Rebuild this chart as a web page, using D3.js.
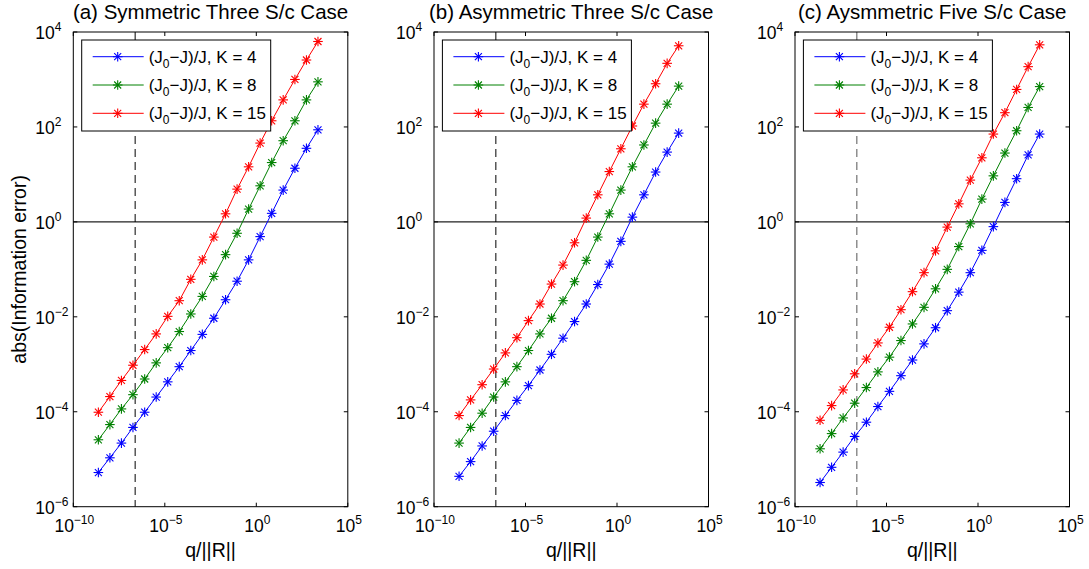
<!DOCTYPE html>
<html>
<head>
<meta charset="utf-8">
<script src="https://cdn.jsdelivr.net/npm/d3@7"></script>
<style>
  body { margin:0; background:#fff; }
  svg { font-family: "Liberation Sans", Arial, sans-serif; }
</style>
</head>
<body>
<svg id="chart" width="1089" height="569"></svg>
<script>
// log10 of q/||R|| for each of the 20 samples
var qLog = [-8.63,-8.00,-7.37,-6.74,-6.10,-5.47,-4.84,-4.21,-3.58,-2.95,
            -2.32,-1.68,-1.05,-0.42,0.21,0.84,1.47,2.11,2.74,3.37]

// log10 of abs(information error)
var symK4  = [-5.28,-4.97,-4.66,-4.33,-4.01,-3.69,-3.37,-3.05,-2.71,-2.37,-2.03,-1.64,-1.25,-0.80,-0.31,0.18,0.67,1.13,1.55,1.94]
var symK8  = [-4.59,-4.27,-3.94,-3.64,-3.31,-2.97,-2.65,-2.31,-1.94,-1.57,-1.15,-0.69,-0.24,0.27,0.76,1.25,1.71,2.13,2.57,2.95]
var symK15 = [-4.01,-3.68,-3.34,-3.02,-2.69,-2.36,-1.99,-1.66,-1.21,-0.80,-0.32,0.17,0.69,1.16,1.66,2.13,2.57,3.00,3.41,3.80]

var asym3K4  = [-5.36,-5.05,-4.72,-4.41,-4.08,-3.76,-3.45,-3.12,-2.79,-2.45,-2.10,-1.73,-1.32,-0.89,-0.41,0.10,0.57,1.05,1.47,1.87]
var asym3K8  = [-4.66,-4.33,-4.03,-3.69,-3.37,-3.05,-2.71,-2.36,-2.03,-1.66,-1.26,-0.81,-0.32,0.17,0.67,1.16,1.62,2.08,2.48,2.86]
var asym3K15 = [-4.08,-3.75,-3.43,-3.10,-2.76,-2.44,-2.08,-1.73,-1.31,-0.91,-0.44,0.08,0.57,1.06,1.54,2.02,2.48,2.91,3.34,3.71]

var asym5K4  = [-5.49,-5.17,-4.85,-4.52,-4.22,-3.89,-3.57,-3.24,-2.91,-2.57,-2.23,-1.87,-1.48,-1.07,-0.60,-0.10,0.41,0.91,1.41,1.85]
var asym5K8  = [-4.78,-4.46,-4.13,-3.82,-3.49,-3.16,-2.85,-2.50,-2.15,-1.80,-1.41,-1.00,-0.52,-0.04,0.48,0.97,1.45,1.92,2.41,2.85]
var asym5K15 = [-4.18,-3.87,-3.54,-3.20,-2.89,-2.55,-2.22,-1.85,-1.47,-1.07,-0.61,-0.11,0.38,0.88,1.35,1.85,2.30,2.79,3.27,3.73]

var titles = ["(a) Symmetric Three S/c Case","(b) Asymmetric Three S/c Case","(c) Aysmmetric Five S/c Case"]
var kLabels = ["4","8","15"]
var colors = ["#0000ff","#008000","#ff0000"]
var xTickExp = [-10,-5,0,5]
var yTickExp = [-6,-4,-2,0,2,4]
var dashedLog = -6.62

var panels = [
    {title:titles[0], series:[symK4,symK8,symK15], left:73.3, dash:"#000"},
    {title:titles[1], series:[asym3K4,asym3K8,asym3K15], left:434, dash:"#000"},
    {title:titles[2], series:[asym5K4,asym5K8,asym5K15], left:795, dash:"#555"}
]

var graph = {width:274.5, height:474.7, top:32}

var svg = d3.select("#chart")

var drawStar = function(g, x, y, color)
{
    var r = 4.8, d = 3.5
    var segs = [[-r,0,r,0],[0,-r,0,r],[-d,-d,d,d],[-d,d,d,-d]]
    segs.forEach(function(s)
    {
        g.append("line")
            .attr("x1",x+s[0]).attr("y1",y+s[1])
            .attr("x2",x+s[2]).attr("y2",y+s[3])
            .attr("stroke",color)
            .attr("stroke-width",1.1)
    })
}

var powLabel = function(sel, exp, small)
{
    sel.append("tspan").text("10")
    sel.append("tspan")
        .text(exp < 0 ? "\u2212" + (-exp) : "" + exp)
        .attr("font-size",small)
        .attr("dy",-8)
}

var makePanel = function(p, idx)
{
    var xScale = d3.scaleLog()
        .domain([1e-10,1e5])
        .range([0,graph.width])
    var yScale = d3.scaleLog()
        .domain([1e-6,1e4])
        .range([graph.height,0])

    var g = svg.append("g")
        .attr("transform","translate("+p.left+","+graph.top+")")

    // reference lines
    g.append("line")
        .attr("x1",0).attr("x2",graph.width)
        .attr("y1",yScale(1)).attr("y2",yScale(1))
        .attr("stroke","#222").attr("stroke-width",1.2)
    g.append("line")
        .attr("x1",xScale(Math.pow(10,dashedLog))).attr("x2",xScale(Math.pow(10,dashedLog)))
        .attr("y1",0).attr("y2",graph.height)
        .attr("stroke",p.dash).attr("stroke-width",1)
        .attr("stroke-dasharray","8,5")

    // ticks inside the box, on all four sides
    xTickExp.forEach(function(e)
    {
        var x = xScale(Math.pow(10,e))
        g.append("line").attr("x1",x).attr("x2",x).attr("y1",graph.height).attr("y2",graph.height-4).attr("stroke","#000")
        g.append("line").attr("x1",x).attr("x2",x).attr("y1",0).attr("y2",4).attr("stroke","#000")
        var t = g.append("text")
            .attr("x",x+1).attr("y",graph.height+25)
            .attr("text-anchor","middle")
            .attr("font-size",17.5)
        powLabel(t,e,12)
    })
    yTickExp.forEach(function(e)
    {
        var y = yScale(Math.pow(10,e))
        g.append("line").attr("x1",0).attr("x2",4).attr("y1",y).attr("y2",y).attr("stroke","#000")
        g.append("line").attr("x1",graph.width).attr("x2",graph.width-4).attr("y1",y).attr("y2",y).attr("stroke","#000")
        var t = g.append("text")
            .attr("x",-38).attr("y",y+7)
            .attr("text-anchor","start")
            .attr("font-size",17.5)
        powLabel(t,e,12)
    })

    // series
    var line = d3.line()
        .x(function(v,i){ return xScale(Math.pow(10,qLog[i]))})
        .y(function(v){ return yScale(Math.pow(10,v))})

    p.series.forEach(function(s,k)
    {
        g.append("path")
            .datum(s)
            .attr("d",line)
            .attr("fill","none")
            .attr("stroke",colors[k])
            .attr("stroke-width",1)
        s.forEach(function(v,i)
        {
            drawStar(g, xScale(Math.pow(10,qLog[i])), yScale(Math.pow(10,v)), colors[k])
        })
    })

    // legend
    var lg = g.append("g").attr("transform","translate(8.4,8)")
    lg.append("rect")
        .attr("width",189).attr("height",91)
        .attr("fill","#fff").attr("stroke","#000").attr("stroke-width",1)
    kLabels.forEach(function(k,i)
    {
        var ly = 16.7 + i*28.3
        lg.append("line")
            .attr("x1",11).attr("x2",62).attr("y1",ly).attr("y2",ly)
            .attr("stroke",colors[i]).attr("stroke-width",1)
        drawStar(lg, 36, ly, colors[i])
        var t = lg.append("text")
            .attr("x",67).attr("y",ly+6)
            .attr("font-size",17)
        t.append("tspan").text("(J")
        t.append("tspan").text("0").attr("font-size",12).attr("dy",5)
        t.append("tspan").text("\u2212J)/J, K = "+k).attr("dy",-5)
    })

    // box
    g.append("rect")
        .attr("width",graph.width).attr("height",graph.height)
        .attr("fill","none").attr("stroke","#000").attr("stroke-width",1)

    // title and x label
    g.append("text")
        .text(p.title)
        .attr("x",graph.width/2).attr("y",-13)
        .attr("text-anchor","middle")
        .attr("font-size",20.5)
    g.append("text")
        .text("q/||R||")
        .attr("x",graph.width/2).attr("y",graph.height+50)
        .attr("text-anchor","middle")
        .attr("font-size",19.5)

    if (idx == 0)
    {
        g.append("text")
            .text("abs(Information error)")
            .attr("transform","translate(-47,"+(graph.height/2)+") rotate(-90)")
            .attr("text-anchor","middle")
            .attr("font-size",19.5)
    }
}

panels.forEach(makePanel)
</script>
</body>
</html>
